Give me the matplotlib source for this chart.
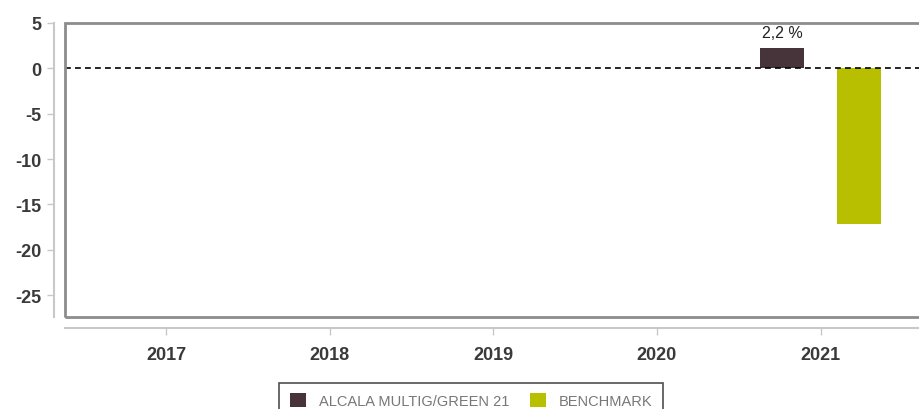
import numpy as np
import matplotlib.pyplot as plt
from matplotlib.patches import Rectangle

plt.rcParams["axes.unicode_minus"] = False

years = ["2017", "2018", "2019", "2020", "2021"]
fund = [np.nan, np.nan, np.nan, np.nan, 2.2]
benchmark = [np.nan, np.nan, np.nan, np.nan, -17.2]
series_names = ["ALCALA MULTIG/GREEN 21", "BENCHMARK"]
fund_labels = ["", "", "", "", "2,2 %"]

font = "Liberation Sans"

fig = plt.figure(figsize=(9.2, 4.1), dpi=100)
ax = fig.add_axes([65 / 920, 1 - 318 / 410, 870 / 920, 294 / 410])

x = np.arange(len(years))
off = 0.235
w = 0.265
ax.bar(x - off, fund, w, color="#46343a", label=series_names[0], zorder=3)
ax.bar(x + off, benchmark, w, color="#b8be00", label=series_names[1], zorder=3)
for xi, v, t in zip(x, fund, fund_labels):
    if t:
        ax.text(xi - off, v + 0.9, t, ha="center", va="bottom", fontsize=11.5, color="#222222",
                family=font)

ax.axhline(0, color="black", lw=1.2, ls=(0, (3.5, 2.5)), zorder=4)

ax.set_xlim(-0.62, 4.70)
ax.set_ylim(-27.4, 5)
ax.set_yticks([5, 0, -5, -10, -15, -20, -25])
ax.set_xticks(x)
ax.set_xticklabels(years)

for s in ["top", "right"]:
    ax.spines[s].set_visible(False)
ax.spines["left"].set_position(("outward", 8))
ax.spines["bottom"].set_position(("outward", 8))
for s in ["left", "bottom"]:
    ax.spines[s].set_color("#c8c8c8")
    ax.spines[s].set_linewidth(1.5)
ax.add_patch(Rectangle((0, 0), 1.2, 1, transform=ax.transAxes, fill=False,
                       ec="#8c8c8c", lw=2, clip_on=False, zorder=5))

ax.tick_params(axis="both", colors="#c8c8c8", length=5, width=1)
ax.tick_params(axis="y", pad=4)
ax.tick_params(axis="x", pad=8)
for lab in ax.get_xticklabels() + ax.get_yticklabels():
    lab.set_color("#3a3a3a")
    lab.set_fontsize(13)
    lab.set_fontweight("bold")
    lab.set_family(font)

leg = fig.legend(loc="lower center", bbox_to_anchor=(471 / 920, -0.04), ncol=2, frameon=True,
                 fancybox=False, edgecolor="#222222", fontsize=10.5, handlelength=1.1,
                 handleheight=1.1, columnspacing=1.4, handletextpad=0.9, borderpad=0.7)
leg.get_frame().set_linewidth(1.2)
for t in leg.get_texts():
    t.set_color("#777777")
    t.set_family(font)

fig.savefig("out.png", dpi=100)
